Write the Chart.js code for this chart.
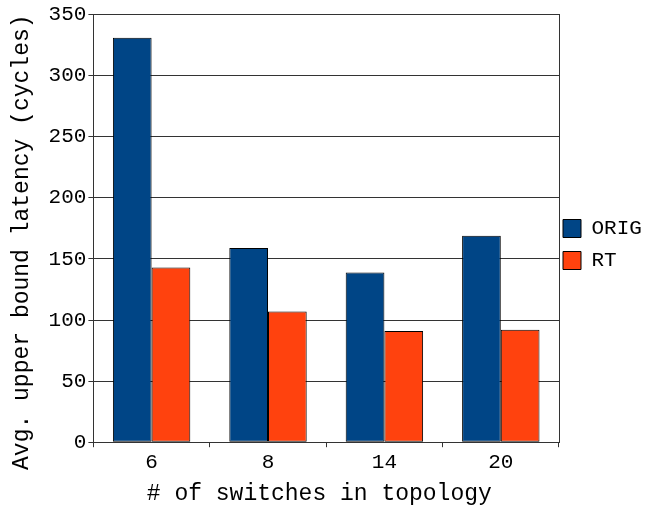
<!DOCTYPE html>
<html>
<head>
<meta charset="utf-8">
<script src="https://cdn.jsdelivr.net/npm/chart.js@4"></script>
<style>
html,body{margin:0;padding:0;background:#fff;}
#wrap{width:646px;height:506px;position:relative;}
</style>
</head>
<body>
<div id="wrap"><canvas id="c" width="646" height="506"></canvas></div>
<script>
const categories = ['6', '8', '14', '20'];
const origValues = [331, 159, 139, 169];
const rtValues = [143, 107, 91, 92];
const seriesNames = ['ORIG', 'RT'];
const yTicks = [0, 50, 100, 150, 200, 250, 300, 350];

const FONT = '"Liberation Mono", "DejaVu Sans Mono", monospace';
const LINE = '#333';

const legendShift = {
  id: 'legendShift',
  afterLayout(chart) {
    const lg = chart.legend;
    if (!lg) return;
    lg.left -= 7;
    lg.top -= 13; lg.bottom -= 13;
  }
};

new Chart(document.getElementById('c'), {
  type: 'bar',
  data: {
    labels: categories,
    datasets: [
      {label: seriesNames[0], data: origValues, backgroundColor: '#004586', borderColor: '#000', borderWidth: 1, borderSkipped: false, categoryPercentage: 0.665, barPercentage: 1},
      {label: seriesNames[1], data: rtValues, backgroundColor: '#ff420e', borderColor: '#000', borderWidth: 1, borderSkipped: false, categoryPercentage: 0.665, barPercentage: 1}
    ]
  },
  plugins: [legendShift],
  options: {
    responsive: false,
    animation: false,
    devicePixelRatio: 1,
    layout: {padding: {top: 7, right: 0, bottom: -2, left: 8}},
    plugins: {
      legend: {
        position: 'right',
        maxWidth: 87,
        labels: {font: {family: FONT, size: 21}, color: '#000', boxWidth: 18, boxHeight: 18, padding: 11}
      },
      tooltip: {enabled: false}
    },
    scales: {
      x: {
        grid: {offset: true, drawOnChartArea: false, color: LINE, tickLength: 5},
        border: {color: LINE},
        ticks: {font: {family: FONT, size: 21}, color: '#000', padding: 3},
        title: {display: true, text: '# of switches in topology ', font: {family: FONT, size: 23}, color: '#000', padding: {top: 2, bottom: 0}}
      },
      y: {
        min: 0, max: 350,
        afterBuildTicks: (s) => { s.ticks = yTicks.map(v => ({value: v})); },
        grid: {color: LINE, tickLength: 5},
        border: {color: LINE},
        ticks: {font: {family: FONT, size: 21}, color: '#000', padding: 2},
        title: {display: true, text: 'Avg. upper bound latency (cycles)  ', font: {family: FONT, size: 23}, color: '#000', padding: {top: 0, bottom: 11}}
      },
      y2: {
        position: 'right', min: 0, max: 1,
        afterFit: (s) => { s.width = 0; },
        grid: {display: false},
        ticks: {display: false},
        border: {display: true, color: LINE}
      }
    }
  }
});
</script>
</body>
</html>
